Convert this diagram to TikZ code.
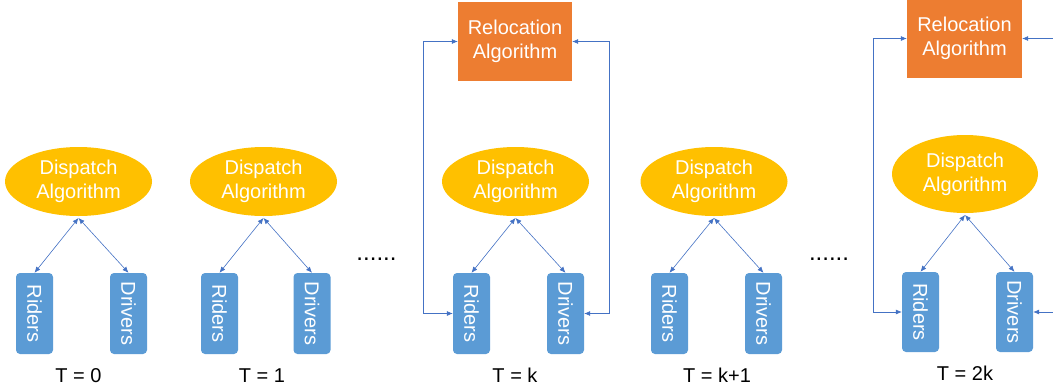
\documentclass[tikz,border=0pt]{standalone}
\usepackage{fontspec}
\setmainfont{Liberation Sans}
\usetikzlibrary{shapes.geometric,arrows.meta}
\definecolor{dispatchyellow}{HTML}{FFC000}
\definecolor{relocorange}{HTML}{ED7D31}
\definecolor{agentblue}{HTML}{5B9BD5}
\definecolor{linkblue}{HTML}{4472C4}

\begin{document}
\begin{tikzpicture}
	[x=1pt,y=-1pt,
	every node/.style={font=\fontsize{20}{24}\selectfont,inner sep=0pt},
	dispatch/.style={ellipse,fill=dispatchyellow,text=white,align=center,
		minimum width=147pt,minimum height=69pt,outer sep=2pt},
	reloc/.style={rectangle,fill=relocorange,text=white,align=center,
		minimum width=114pt,minimum height=79pt},
	agent/.style={rectangle,rounded corners=4pt,fill=agentblue,text=white,
		minimum width=37pt,minimum height=81pt},
	link/.style={draw=linkblue,line width=0.6pt,
		{Latex[length=6pt,width=5pt]}-{Latex[length=6pt,width=5pt]}},
	stamp/.style={anchor=base,text=black},
	gap/.style={font=\fontsize{24}{28}\selectfont}
	]
	\clip (0,0) rectangle (1053,389);

	% T = 0
	\node[dispatch] (d0) at (78.5,181.5) {Dispatch\\Algorithm};
	\node[agent] (r0) at (34.5,313.5) {\rotatebox{-90}{Riders}};
	\node[agent] (v0) at (128.5,313.5) {\rotatebox{-90}{Drivers}};
	\node[stamp] (t0) at (78.5,382) {T = 0};
	\draw[link] (d0.south) -- (r0.north);
	\draw[link] (d0.south) -- (v0.north);

	% T = 1
	\node[dispatch] (d1) at (263.5,181.5) {Dispatch\\Algorithm};
	\node[agent] (r1) at (219.5,313.5) {\rotatebox{-90}{Riders}};
	\node[agent] (v1) at (312,313.5) {\rotatebox{-90}{Drivers}};
	\node[stamp] (t1) at (262,382) {T = 1};
	\draw[link] (d1.south) -- (r1.north);
	\draw[link] (d1.south) -- (v1.north);

	\node[gap] (g1) at (376.5,259.5) {......};

	% T = k
	\node[reloc] (rk) at (515,41.5) {Relocation\\Algorithm};
	\node[dispatch] (dk) at (515.5,181.5) {Dispatch\\Algorithm};
	\node[agent] (ak) at (471.5,313.5) {\rotatebox{-90}{Riders}};
	\node[agent] (vk) at (565.5,313.5) {\rotatebox{-90}{Drivers}};
	\node[stamp] (tk) at (515,382) {T = k};
	\draw[link] (dk.south) -- (ak.north);
	\draw[link] (dk.south) -- (vk.north);
	\coordinate (lk) at (423,41.5);
	\coordinate (ek) at (609,41.5);
	\draw[link] (rk.west) -- (lk) |- (ak.west);
	\draw[link] (rk.east) -- (ek) |- (vk.east);

	% T = k+1
	\node[dispatch] (dk1) at (714,181.5) {Dispatch\\Algorithm};
	\node[agent] (ak1) at (669.5,313.5) {\rotatebox{-90}{Riders}};
	\node[agent] (vk1) at (763.5,313.5) {\rotatebox{-90}{Drivers}};
	\node[stamp] (tk1) at (717,382) {T = k+1};
	\draw[link] (dk1.south) -- (ak1.north);
	\draw[link] (dk1.south) -- (vk1.north);

	\node[gap] (g2) at (829,259.5) {......};

	% T = 2k
	\node[reloc,minimum width=115pt] (r2k) at (964.5,38.5) {Relocation\\Algorithm};
	\node[dispatch,minimum height=78pt,minimum width=146pt] (d2k) at (965,174) {Dispatch\\Algorithm};
	\node[agent,minimum height=80pt] (a2k) at (920.5,312) {\rotatebox{-90}{Riders}};
	\node[agent,minimum height=80pt] (v2k) at (1014.5,312) {\rotatebox{-90}{Drivers}};
	\node[stamp] (t2k) at (965,380) {T = 2k};
	\draw[link] (d2k.south) -- (a2k.north);
	\draw[link] (d2k.south) -- (v2k.north);
	\coordinate (l2k) at (873,38.5);
	\coordinate (e2k) at (1070,38.5);
	\draw[link] (r2k.west) -- (l2k) |- (a2k.west);
	\draw[link] (r2k.east) -- (e2k) |- (v2k.east);
\end{tikzpicture}
\end{document}
